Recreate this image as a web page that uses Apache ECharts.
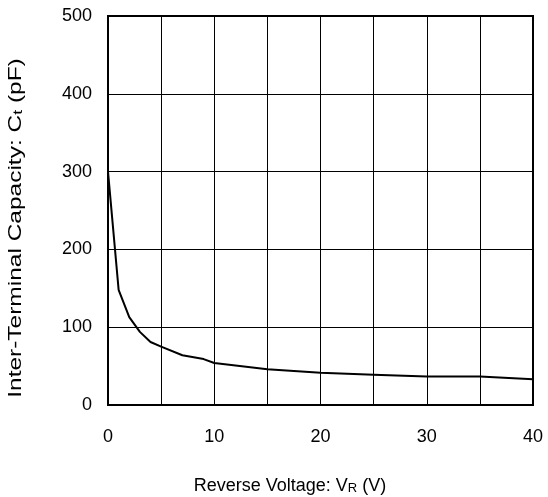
<!DOCTYPE html>
<html>
<head>
<meta charset="utf-8">
<script src="https://cdn.jsdelivr.net/npm/echarts@6/dist/echarts.min.js"></script>
<style>html,body{margin:0;padding:0;background:#fff}#c{width:548px;height:497px}</style>
</head>
<body>
<div id="c"></div>
<script>
var voltage = [0, 1, 2, 3, 4, 5, 7, 9, 10, 15, 20, 25, 30, 35, 40];
var capacity = [300, 148, 113, 94, 81, 75, 64, 59, 54, 46, 41.5, 39, 36.5, 36.5, 33];
var xTicks = [0, 10, 20, 30, 40];
var yTicks = [0, 100, 200, 300, 400, 500];

var data = voltage.map(function (v, i) { return [v, capacity[i]]; });
var font = 'Liberation Sans, Arial, sans-serif';
var chart = echarts.init(document.getElementById('c'), null, {renderer: 'canvas'});
chart.setOption({
  animation: false,
  backgroundColor: '#fff',
  grid: {left: 108, right: 15, top: 16, bottom: 92, show: true, borderColor: '#000', borderWidth: 2, backgroundColor: 'transparent'},
  xAxis: {
    type: 'value', min: 0, max: 40, interval: 5,
    axisLine: {show: true, lineStyle: {color: '#000', width: 2}},
    axisTick: {show: false},
    splitLine: {show: true, lineStyle: {color: '#000', width: 1}},
    axisLabel: {
      margin: 23, color: '#000', fontSize: 18, fontFamily: font,
      formatter: function (v) { return xTicks.indexOf(v) >= 0 ? String(v) : ''; }
    }
  },
  yAxis: {
    type: 'value', min: 0, max: 500, interval: 100,
    axisLine: {show: true, lineStyle: {color: '#000', width: 2}},
    axisTick: {show: false},
    splitLine: {show: true, lineStyle: {color: '#000', width: 1}},
    axisLabel: {
      margin: 16, color: '#000', fontSize: 18, fontFamily: font,
      formatter: function (v) { return yTicks.indexOf(v) >= 0 ? String(v) : ''; }
    }
  },
  series: [{
    type: 'line', data: data, symbol: 'none', smooth: false,
    lineStyle: {color: '#000', width: 2}
  }],
  graphic: [
    {
      type: 'text', x: 290, y: 486,
      style: {
        text: '{a|Reverse Voltage: V}{b|R}{a| (V)}',
        align: 'center', verticalAlign: 'middle',
        rich: {
          a: {fontSize: 18, fontFamily: font, fill: '#000', color: '#000'},
          b: {fontSize: 13, fontFamily: font, fill: '#000', color: '#000', padding: [4, 0, 0, 0]}
        }
      }
    },
    {
      type: 'text', x: 16, y: 228, rotation: Math.PI / 2, scaleX: 1.36,
      style: {
        text: '{a|Inter-Terminal Capacity: C}{b|t}{a| (pF)}',
        align: 'center', verticalAlign: 'middle',
        rich: {
          a: {fontSize: 18, fontFamily: font, fill: '#000', color: '#000'},
          b: {fontSize: 13, fontFamily: font, fill: '#000', color: '#000', padding: [4, 0, 0, 0]}
        }
      }
    }
  ]
});
</script>
</body>
</html>
